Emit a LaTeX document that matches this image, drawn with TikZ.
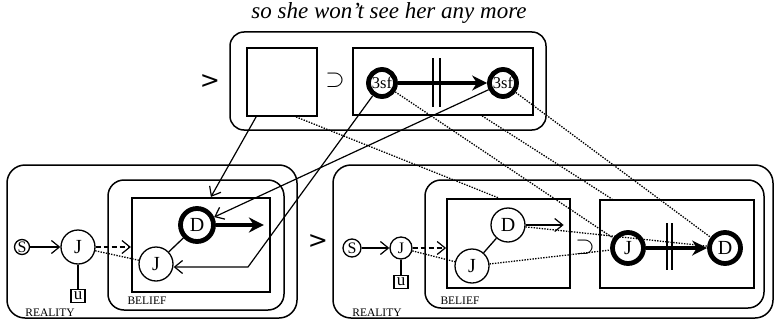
\documentclass[tikz,border=0pt]{standalone}
\usepackage{fontspec}
\setmainfont{Liberation Serif}
\newfontfamily\gtfont{DejaVu Sans}
\usetikzlibrary{arrows.meta,calc}

\begin{document}
\begin{tikzpicture}[x=1pt,y=-1pt]
\tikzset{box/.style={draw,line width=1.5pt,rounded corners=16pt,inner sep=0pt},
  rim/.style={draw,line width=1.8pt,inner sep=0pt},
  ent/.style={circle,draw,line width=1.3pt,inner sep=0pt,font=\fontsize{20}{20}\selectfont},
  fat/.style={ent,line width=4.8pt},
  sm/.style={font=\fontsize{16}{16}\selectfont},
  ubox/.style={draw,line width=1.2pt,minimum width=14pt,minimum height=13pt,inner sep=0pt,font=\fontsize{17}{17}\selectfont},
  tag/.style={inner sep=0pt,font=\fontsize{11.5}{11.5}\selectfont},
  sym/.style={inner sep=0pt,font=\gtfont\fontsize{24}{24}\selectfont},
  sub/.style={inner sep=0pt,font=\fontsize{25}{25}\selectfont},
  arr/.style={-{Straight Barb[length=8pt,width=13pt,line width=1.2pt]},line width=1.2pt},
  dsh/.style={arr,dash pattern=on 5pt off 3pt},
  big/.style={-{Stealth[length=15pt,width=15pt]},line width=4.2pt},
  link/.style={line width=1.3pt,dash pattern=on 1.4pt off 1.3pt}}
\useasboundingbox (0,0) rectangle (775,321);

\node[font=\itshape\fontsize{23}{23}\selectfont] (ttl) at (389,13) {so she won't see her any more};

\node[sym] (gt1) at (210,82) {>};
\node[box,rounded corners=14pt,minimum width=316pt,minimum height=98pt] (top) at (388,81) {};
\node[rim,minimum width=70pt,minimum height=68pt] (sq) at (282,82) {};
\node[sub] (sup1) at (335,80) {$\supset$};
\node[rim,minimum width=180pt,minimum height=67pt] (tr) at (443,81.5) {};
\node[fat,minimum size=27pt,font=\fontsize{16.5}{16.5}\selectfont] (c1) at (382,83) {3sf};
\node[fat,minimum size=27pt,font=\fontsize{16.5}{16.5}\selectfont] (c2) at (503,83) {3sf};
\draw[big] (c1) -- (c2);
\draw[line width=1.3pt] (433,58) -- (433,107) (440,58) -- (440,107);

\node[box,rounded corners=18pt,minimum width=290pt,minimum height=153pt] (realL) at (152,241.5) {};
\node[box,minimum width=176pt,minimum height=130pt] (belL) at (196,245) {};
\node[rim,line width=2.2pt,minimum width=138pt,minimum height=94pt] (rectL) at (201,245) {};
\node[tag] (rl1) at (50,313) {REALITY};
\node[tag] (bl1) at (147,301) {BELIEF};
\node[ent,sm,minimum size=15pt] (s1) at (22,247) {S};
\node[ent,minimum size=34pt] (j1) at (78,247) {J};
\node[ubox] (u1) at (78,296) {u};
\node[fat,minimum size=33pt] (d1) at (197,225) {D};
\node[ent,minimum size=34pt] (j2) at (156,264) {J};
\draw[arr] (s1) -- (j1);
\draw[line width=1.2pt] (j1) -- (u1);
\draw[dsh] (j1) -- (j1 -| rectL.west);
\draw[link] (j1) -- (j2);
\draw[line width=1.3pt] (d1) -- (j2);
\draw[big] (d1.east) -- ++(48,0);

\node[sym] (gt2) at (318,242) {>};

\node[box,rounded corners=18pt,minimum width=440pt,minimum height=153pt] (realR) at (553,241.5) {};
\node[box,minimum width=339pt,minimum height=128pt] (belR) at (594.5,244) {};
\node[rim,minimum width=123pt,minimum height=89pt] (rectA) at (508.5,243.5) {};
\node[rim,minimum width=154pt,minimum height=88pt] (rectB) at (677,244) {};
\node[sub] (sup2) at (585,247) {$\supset$};
\node[tag] (rl2) at (377,313) {REALITY};
\node[tag] (bl2) at (460,301) {BELIEF};
\node[ent,sm,minimum size=18pt] (s2) at (352,248) {S};
\node[ent,sm,minimum size=22pt] (j3) at (401,248) {J};
\node[ubox] (u2) at (401,282) {u};
\node[ent,minimum size=34pt] (d2) at (508,225) {D};
\node[ent,minimum size=34pt] (j4) at (472,266) {J};
\node[fat,minimum size=31pt] (j5) at (628,248) {J};
\node[fat,minimum size=31pt] (d3) at (725,248) {D};
\draw[arr] (s2) -- (j3);
\draw[line width=1.2pt] (j3) -- (u2);
\draw[dsh] (j3) -- (j3 -| rectA.west);
\draw[link] (j3) -- (j4);
\draw[line width=1.3pt] (d2) -- (j4);
\draw[arr] (d2.east) -- ++(38,0);
\draw[big] (j5) -- (d3);
\draw[line width=1.3pt] (667,223) -- (667,270) (672,223) -- (672,270);

\coordinate (kink) at (248,267);
\draw[arr] ([xshift=10pt]sq.south west) -- ([xshift=80pt]rectL.north west);
\draw[arr] (c2) -- (d1);
\draw[arr] (c1) -- (kink) -- (kink -| j2.east);

\draw[link] ([xshift=50pt]sq.south west) -- ([xshift=53pt]rectA.north west);
\draw[link] (c1) -- (j5);
\draw[link] ([xshift=130pt]tr.south west) -- ([xshift=13pt]rectB.north west);
\draw[link] (c2) -- (d3);
\draw[link] (d2) -- (d3);
\draw[link] (j4) -- (j5);
\end{tikzpicture}
\end{document}
